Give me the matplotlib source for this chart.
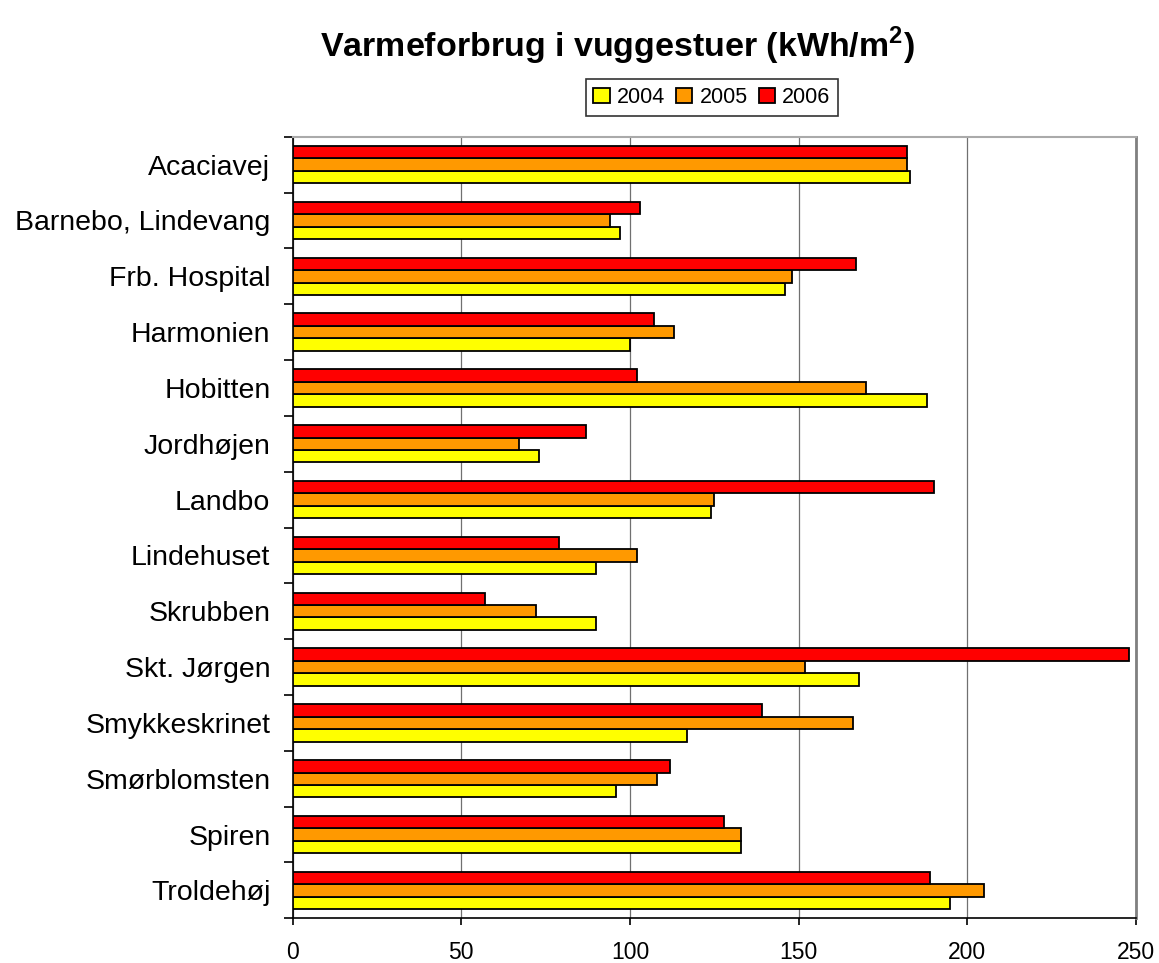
import matplotlib
matplotlib.use("Agg")
import matplotlib.pyplot as plt
import numpy as np

plt.rcParams['font.family'] = ['Liberation Sans', 'DejaVu Sans']
plt.rcParams['mathtext.fontset'] = 'custom'
plt.rcParams['mathtext.rm'] = 'Liberation Sans'
plt.rcParams['mathtext.bf'] = 'Liberation Sans:bold'

# data
categories = ["Acaciavej", "Barnebo, Lindevang", "Frb. Hospital", "Harmonien",
              "Hobitten", "Jordhøjen", "Landbo", "Lindehuset", "Skrubben",
              "Skt. Jørgen", "Smykkeskrinet", "Smørblomsten", "Spiren", "Troldehøj"]
v2004 = [183, 97, 146, 100, 188, 73, 124, 90, 90, 168, 117, 96, 133, 195]
v2005 = [182, 94, 148, 113, 170, 67, 125, 102, 72, 152, 166, 108, 133, 205]
v2006 = [182, 103, 167, 107, 102, 87, 190, 79, 57, 248, 139, 112, 128, 189]
years = ["2004", "2005", "2006"]
colors = ["#FFFF00", "#FF9900", "#FF0000"]
xticks = [0, 50, 100, 150, 200, 250]

fig = plt.figure(figsize=(11.59, 9.63), dpi=100)
ax = fig.add_axes([0.2525, 0.0464, 0.7276, 0.8116])

y = np.arange(len(categories))
h = 0.223
series = [v2004, v2005, v2006]
offsets = [h, 0, -h]
for vals, off, col, lab in zip(series, offsets, colors, years):
    ax.barh(y + off, vals, height=h, color=col, edgecolor="black",
            linewidth=1.3, label=lab, zorder=3)

ax.set_ylim(len(categories) - 0.5, -0.5)
ax.set_xlim(0, 250)

# category labels centred, tick marks between categories
ax.set_yticks(y)
ax.set_yticklabels(categories, fontsize=20.5)
ax.set_yticks(np.arange(len(categories) + 1) - 0.5, minor=True)
ax.tick_params(axis="y", which="major", length=0, pad=16)
ax.tick_params(axis="y", which="minor", length=6.5, width=1.2, color="black")

ax.set_xticks(xticks)
ax.set_xticklabels([str(t) for t in xticks], fontsize=16.5)
ax.tick_params(axis="x", which="major", length=5, width=1.2, pad=11)

ax.grid(axis="x", color="#707070", linewidth=0.9, zorder=0)
ax.grid(axis="y", visible=False)
ax.spines["top"].set_color("#aaaaaa")
ax.spines["top"].set_linewidth(1.5)
ax.spines["right"].set_color("#808080")
ax.spines["right"].set_linewidth(2)
for s in ["left", "bottom"]:
    ax.spines[s].set_color("black")
    ax.spines[s].set_linewidth(1.2)

fig.text(0.533, 0.952, r"Varmeforbrug i vuggestuer (kWh/m$^\mathbf{2}$)",
         fontsize=24.5, fontweight="bold", ha="center", va="center")

leg = fig.legend(loc="center", bbox_to_anchor=(712 / 1159, 1 - 97.5 / 963),
                 ncol=3, fontsize=15.5, frameon=True, fancybox=False,
                 handlelength=0.75, handleheight=0.75, handletextpad=0.35,
                 columnspacing=0.5, borderpad=0.35, borderaxespad=0)
leg.get_frame().set_edgecolor("black")
leg.get_frame().set_linewidth(1.2)

fig.savefig("out.png", dpi=100)
